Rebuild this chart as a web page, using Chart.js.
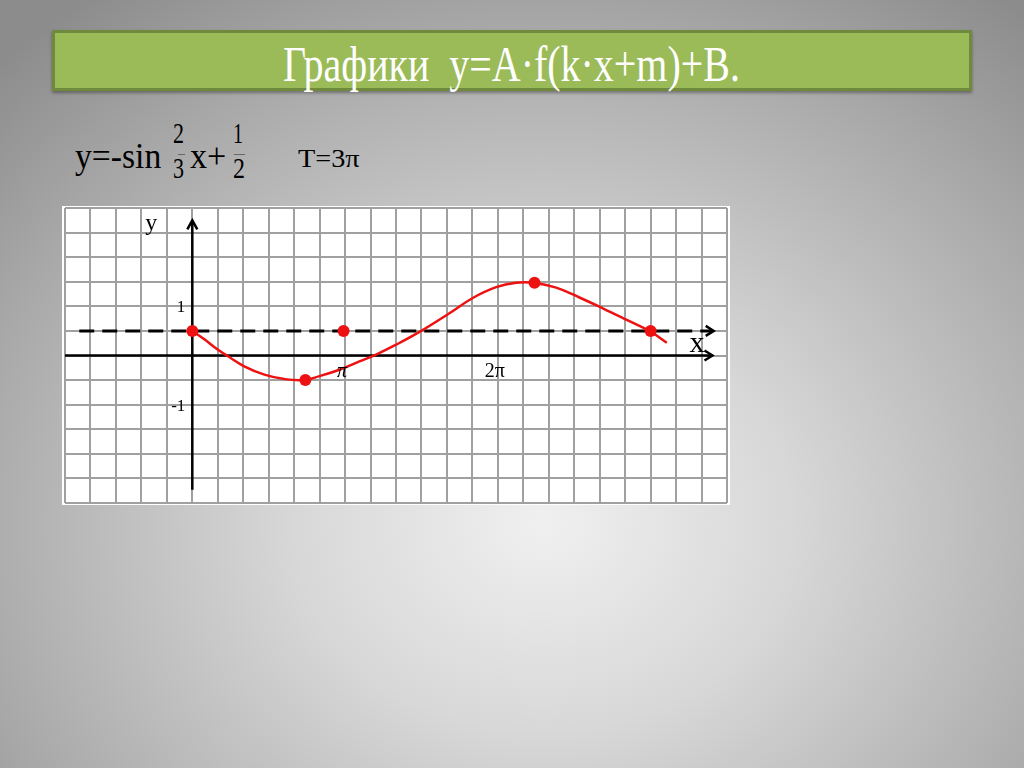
<!DOCTYPE html>
<html>
<head>
<meta charset="utf-8">
<script src="https://cdn.jsdelivr.net/npm/chart.js@4/dist/chart.umd.min.js"></script>
<style>
  html, body { margin: 0; padding: 0; }
  body {
    width: 1024px; height: 768px; overflow: hidden; position: relative;
    background: radial-gradient(ellipse 75% 85% at 53% 68%, #f0f0f0 0%, #d8d8d8 32%, #a8a8a8 76%, #8c8c8c 100%);
  }
  #titleBox {
    position: absolute; left: 52px; top: 30px; width: 920px; height: 61px;
    box-sizing: border-box; background: #9bbb59; border: 3px solid #6f8a3d;
    box-shadow: 0 2px 3px rgba(0,0,0,0.35);
  }
  .t {
    position: absolute; line-height: 1; white-space: pre; transform-origin: 0 0;
    font-family: "Liberation Serif", "DejaVu Serif", serif; font-weight: normal; color: #000;
  }
  .bar { position: absolute; height: 1px; background: #666; }
  canvas { position: absolute; left: 0; top: 0; }
</style>
</head>
<body>
<div id="titleBox"></div>
<span class="t" id="title" style="color:#fff;font-size:50px">Графики  y=A·f(k·x+m)+B.</span>

<span class="t" id="f1" style="font-size:36px">y=-sin</span>
<span class="t" id="n1" style="font-size:30px">2</span>
<div class="bar" style="left:178px;top:154px;width:7px"></div>
<span class="t" id="d1" style="font-size:30px">3</span>
<span class="t" id="f2" style="font-size:36px">x+</span>
<span class="t" id="n2" style="font-size:30px">1</span>
<div class="bar" style="left:234px;top:154px;width:11px"></div>
<span class="t" id="d2" style="font-size:30px">2</span>
<span class="t" id="per" style="font-size:26px">T=3π</span>

<canvas id="graph" width="1024" height="768"></canvas>

<script>
// x values are in units of π
const xTickValues = [1, 2];
const xTickLabels = ["π", "2π"];
const yTickValues = [1, -1];
const yTickLabels = ["1", "-1"];

// red curve
const curveX = [0, 0.079, 0.166, 0.231, 0.34, 0.472, 0.603, 0.733, 0.832, 0.963, 1.094, 1.203, 1.334, 1.487, 1.683, 1.836, 1.989, 2.12, 2.233, 2.382, 2.534, 2.687, 2.84, 2.997, 3.106];
const curveY = [0.5, 0.33, 0.12, -0.01, -0.22, -0.39, -0.48, -0.5, -0.42, -0.29, -0.12, 0.02, 0.22, 0.48, 0.86, 1.17, 1.39, 1.48, 1.48, 1.38, 1.18, 0.96, 0.73, 0.49, 0.26];

// marked points
const dotX = [0, 0.74, 0.99, 2.24, 3.0];
const dotY = [0.5, -0.5, 0.5, 1.48, 0.5];

// dashed line y = 1/2 and the axes
const dashX = [-0.74, 3.4];
const dashY = [0.5, 0.5];
const axisXx = [-0.85, 3.405];
const axisXy = [0, 0];
const axisYx = [0, 0];
const axisYy = [-2.73, 2.75];

// place a text piece by its left edge / baseline and squeeze it to a width
function place(id, left, baseline, width) {
  var el = document.getElementById(id);
  var fs = parseFloat(el.style.fontSize);
  el.style.left = left + "px";
  el.style.top = (baseline - 0.84 * fs) + "px";
  if (width) el.style.transform = "scaleX(" + (width / el.offsetWidth) + ")";
}
place("title", 283, 81, 457);
place("f1", 75, 168, 86);
place("n1", 173, 143, 11);
place("d1", 173, 178, 11);
place("f2", 190, 168, 36);
place("n2", 233, 143, 10);
place("d2", 233, 178, 12);
place("per", 298, 168, 62);

function pts(xs, ys) {
  return xs.map(function (x, i) { return { x: x, y: ys[i] }; });
}

const paperPlugin = {
  id: "paper",
  beforeDraw(chart) {
    const a = chart.chartArea, ctx = chart.ctx;
    ctx.save();
    ctx.fillStyle = "#ffffff";
    ctx.fillRect(a.left - 3, a.top - 2, a.right - a.left + 6, a.bottom - a.top + 4);
    ctx.restore();
  }
};

const gridTicks = function (step) {
  return function (scale) {
    const t = [];
    const n = Math.round((scale.max - scale.min) / step);
    for (let i = 0; i <= n; i++) t.push({ value: scale.min + i * step });
    scale.ticks = t;
  };
};

const labelsPlugin = {
  id: "labels",
  afterDatasetsDraw(chart) {
    const ctx = chart.ctx, xs = chart.scales.x, ys = chart.scales.y;
    const x0 = xs.getPixelForValue(0), y0 = ys.getPixelForValue(0);
    const serif = "'Liberation Serif', 'DejaVu Serif', serif";
    ctx.save();
    ctx.strokeStyle = "#000";
    ctx.lineWidth = 2.5;
    // arrow heads
    const heads = [
      [xs.getPixelForValue(axisXx[1]), ys.getPixelForValue(axisXy[1]), "r"],
      [xs.getPixelForValue(dashX[1]) + 2, ys.getPixelForValue(dashY[1]), "r"],
      [xs.getPixelForValue(axisYx[1]), ys.getPixelForValue(axisYy[1]), "u"]
    ];
    heads.forEach(function (h) {
      ctx.beginPath();
      if (h[2] === "r") {
        ctx.moveTo(h[0] - 8, h[1] - 5); ctx.lineTo(h[0], h[1]); ctx.lineTo(h[0] - 8, h[1] + 5);
      } else {
        ctx.moveTo(h[0] - 5, h[1] + 9); ctx.lineTo(h[0], h[1]); ctx.lineTo(h[0] + 5, h[1] + 9);
      }
      ctx.stroke();
    });

    ctx.fillStyle = "#000";
    ctx.textBaseline = "alphabetic";
    ctx.font = "24px " + serif;
    ctx.textAlign = "left";
    ctx.fillText("y", x0 - 47, ys.getPixelForValue(axisYy[1]) + 10);
    ctx.font = "30px " + serif;
    ctx.fillText("x", xs.getPixelForValue(axisXx[1]) - 23, y0 - 4);

    ctx.font = "17px " + serif;
    ctx.textAlign = "right";
    yTickValues.forEach(function (v, i) {
      ctx.fillText(yTickLabels[i], x0 - 7, ys.getPixelForValue(v) + 6);
    });
    ctx.textAlign = "center";
    xTickValues.forEach(function (v, i) {
      ctx.font = (i === 0 ? "italic " : "") + "20px " + serif;
      ctx.fillText(xTickLabels[i], xs.getPixelForValue(v) - 3, y0 + 21);
    });
    ctx.restore();
  }
};

new Chart(document.getElementById("graph"), {
  type: "scatter",
  data: {
    datasets: [
      {
        data: pts(dotX, dotY), showLine: false, order: 0,
        pointRadius: 6, pointBackgroundColor: "#ee1111", pointBorderWidth: 0
      },
      {
        data: pts(curveX, curveY), showLine: true, order: 1,
        borderColor: "#ee1111", borderWidth: 2.5, pointRadius: 0, tension: 0.4
      },
      {
        data: pts(dashX, dashY), showLine: true, order: 2,
        borderColor: "#000", borderWidth: 3, borderDash: [15, 8], pointRadius: 0
      },
      {
        data: pts(axisXx, axisXy), showLine: true, order: 3,
        borderColor: "#000", borderWidth: 2.5, pointRadius: 0
      },
      {
        data: pts(axisYx, axisYy), showLine: true, order: 3,
        borderColor: "#000", borderWidth: 2.5, pointRadius: 0
      }
    ]
  },
  options: {
    responsive: false,
    animation: false,
    devicePixelRatio: 1,
    layout: { padding: { left: 65, top: 208, right: 297, bottom: 265 } },
    plugins: { legend: { display: false }, tooltip: { enabled: false } },
    scales: {
      x: {
        type: "linear", min: -5 / 6, max: 3.5,
        afterBuildTicks: gridTicks(1 / 6),
        ticks: { display: false },
        grid: { color: "#a0a0a0", lineWidth: 2, drawTicks: false },
        border: { display: false }
      },
      y: {
        type: "linear", min: -3, max: 3,
        afterBuildTicks: gridTicks(0.5),
        ticks: { display: false },
        grid: { color: "#a0a0a0", lineWidth: 2, drawTicks: false },
        border: { display: false }
      }
    }
  },
  plugins: [paperPlugin, labelsPlugin]
});
</script>
</body>
</html>
